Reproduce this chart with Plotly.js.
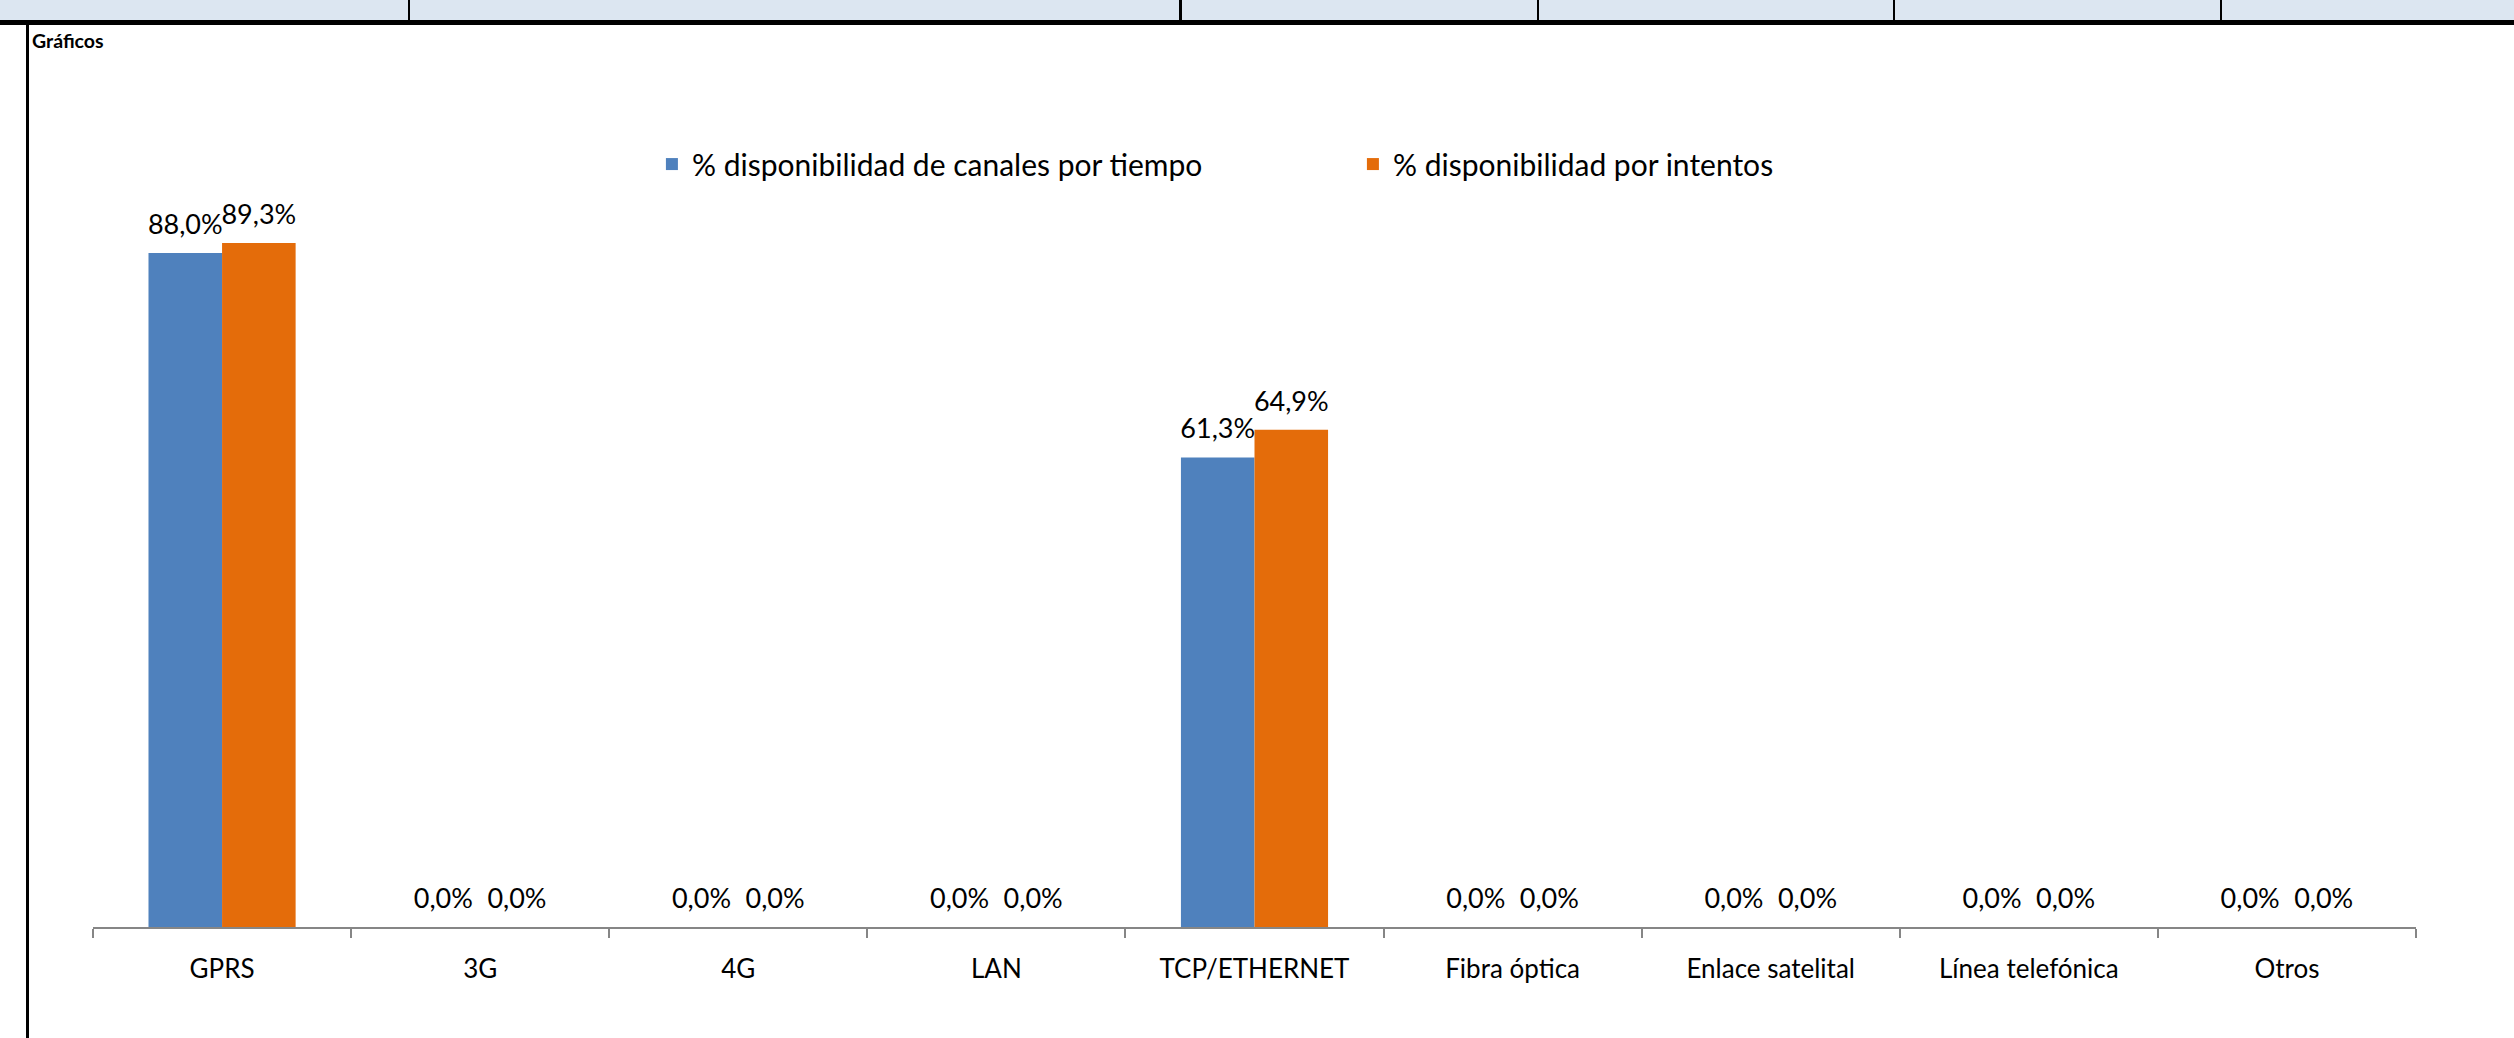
<!DOCTYPE html>
<html>
<head>
<meta charset="utf-8">
<script src="https://cdn.plot.ly/plotly-3.0.1.min.js"></script>
<style>
  html, body { margin: 0; padding: 0; background: #ffffff; }
  #wrap { position: relative; width: 2514px; height: 1038px; overflow: hidden; background: #ffffff; }
  #chart { position: absolute; left: 0; top: 0; width: 2514px; height: 1038px; }
  .deco { position: absolute; z-index: 5; }
  #band { left: 0; top: 0; width: 2514px; height: 20px; background: #DCE6F1; }
  #thick { left: 0; top: 20px; width: 2514px; height: 5px; background: #000; }
  .div { top: 0; height: 20px; width: 2px; background: #000; }
  #leftline { left: 26px; top: 25px; width: 3px; height: 1013px; background: #000; }
  #graf { left: 32px; top: 29px; font-family: Lato, "Liberation Sans", sans-serif; font-weight: bold; font-size: 19.5px; color: #000; line-height: 24px; }
</style>
</head>
<body>
<div id="wrap">
  <div id="chart"></div>
  <div class="deco" id="band"></div>
  <div class="deco div" style="left:408px"></div>
  <div class="deco div" style="left:1179px;width:3px"></div>
  <div class="deco div" style="left:1537px"></div>
  <div class="deco div" style="left:1893px"></div>
  <div class="deco div" style="left:2220px"></div>
  <div class="deco" id="thick"></div>
  <div class="deco" id="leftline"></div>
  <div class="deco" id="graf">Gráficos</div>
</div>
<script>
// ---- data ----
const categories = ['GPRS', '3G', '4G', 'LAN', 'TCP/ETHERNET', 'Fibra óptica', 'Enlace satelital', 'Línea telefónica', 'Otros'];
const seriesNames = ['% disponibilidad de canales por tiempo', '% disponibilidad por intentos'];
const dispTiempo = [88.0, 0.0, 0.0, 0.0, 61.3, 0.0, 0.0, 0.0, 0.0];
const dispIntentos = [89.3, 0.0, 0.0, 0.0, 64.9, 0.0, 0.0, 0.0, 0.0];

const FONT = 'Lato, "Liberation Sans", sans-serif';
const colors = ['#4F81BD', '#E46C0A'];

function barTrace(name, vals, color) {
  return {
    type: 'bar',
    name: name,
    x: categories,
    y: vals,
    marker: { color: color },
    textposition: 'none',
    hoverinfo: 'skip'
  };
}

// value labels: grouped text points sitting on top of each bar
function labelTrace(name, vals) {
  return {
    type: 'scatter',
    mode: 'markers+text',
    name: name,
    x: categories,
    y: vals,
    showlegend: false,
    marker: { size: 18, color: 'rgba(0,0,0,0)', line: { width: 0 } },
    texttemplate: '%{y:.1f}%',
    textposition: 'top center',
    textfont: { family: FONT, size: 27, color: '#000000' },
    cliponaxis: false,
    hoverinfo: 'skip'
  };
}

const data = [
  barTrace(seriesNames[0], dispTiempo, colors[0]),
  barTrace(seriesNames[1], dispIntentos, colors[1]),
  labelTrace(seriesNames[0], dispTiempo),
  labelTrace(seriesNames[1], dispIntentos)
];

const layout = {
  width: 2514,
  height: 1038,
  margin: { l: 93, r: 98, t: 161, b: 111, pad: 0 },
  paper_bgcolor: '#ffffff',
  plot_bgcolor: '#ffffff',
  font: { family: FONT, color: '#000000' },
  barmode: 'group',
  bargap: 0.43,
  bargroupgap: 0,
  scattermode: 'group',
  scattergap: 0.43,
  separators: ',.',
  showlegend: true,
  legend: {
    orientation: 'h',
    x: 0.2406,
    xanchor: 'left',
    y: 0.996,
    yanchor: 'middle',
    font: { family: FONT, size: 30, color: '#000000' },
    entrywidth: 656,
    entrywidthmode: 'pixels',
    traceorder: 'normal',
    bgcolor: 'rgba(0,0,0,0)'
  },
  xaxis: {
    type: 'category',
    showline: true,
    linecolor: '#868686',
    linewidth: 2,
    ticks: 'outside',
    tickson: 'boundaries',
    ticklen: 9,
    tickwidth: 2,
    tickcolor: '#868686',
    ticklabelstandoff: 18,
    tickfont: { family: FONT, size: 26, color: '#000000' },
    showgrid: false,
    zeroline: false,
    fixedrange: true
  },
  yaxis: {
    range: [0, 100],
    visible: false,
    showgrid: false,
    zeroline: false,
    fixedrange: true
  }
};

Plotly.newPlot('chart', data, layout, { staticPlot: true, displayModeBar: false });
</script>
</body>
</html>
